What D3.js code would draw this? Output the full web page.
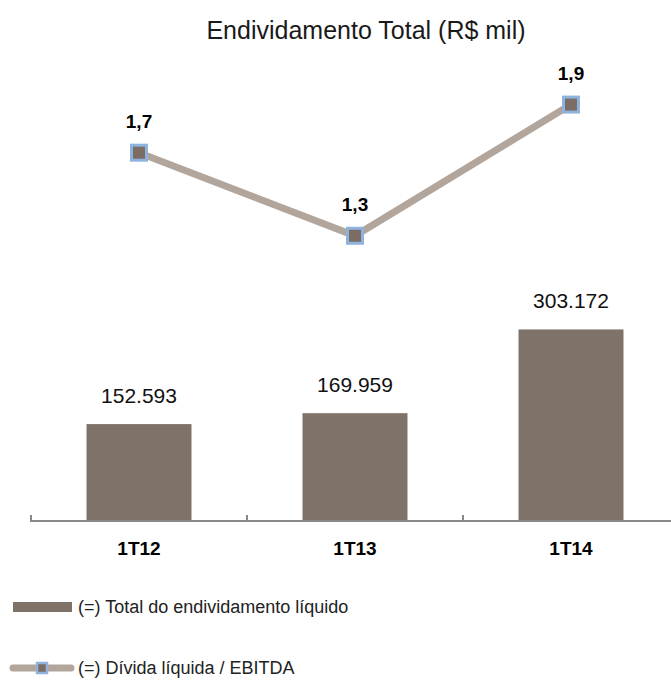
<!DOCTYPE html>
<meta charset="utf-8">
<script src="https://d3js.org/d3.v7.min.js"></script>
<style>
  body { margin: 0; background: #fff; }
  text { font-family: "Liberation Sans", Arial, sans-serif; }
</style>
<div id="my_dataviz"></div>
<script>

// data
var categories = ["1T12", "1T13", "1T14"];
var debtValues = [152593, 169959, 303172];      // Total do endividamento líquido
var ratioValues = [1.68, 1.3, 1.9];             // Dívida líquida / EBITDA
var debtLabels = ["152.593", "169.959", "303.172"];
var ratioLabels = ["1,7", "1,3", "1,9"];

var width = 671, height = 680;

var svg = d3.select("#my_dataviz")
  .append("svg")
    .attr("width", width)
    .attr("height", height);

// title
svg.append("text")
  .attr("x", 366)
  .attr("y", 39)
  .attr("text-anchor", "middle")
  .style("font-size", "25px")
  .style("fill", "#1a1a1a")
  .text("Endividamento Total (R$ mil)");

// scales
var x = d3.scaleBand()
  .domain(categories)
  .range([31, 679])
  .paddingInner(0.514)
  .paddingOuter(0.257);

var y = d3.scaleLinear()
  .domain([0, 350000])
  .range([520, 300]);

var y2 = d3.scaleLinear()
  .domain([0, 2.2])
  .range([520, 39]);

// bars
svg.append("g")
  .selectAll("rect")
  .data(debtValues)
  .enter()
  .append("rect")
    .attr("x", function(d, i) { return x(categories[i]); })
    .attr("y", function(d) { return y(d); })
    .attr("width", x.bandwidth())
    .attr("height", function(d) { return y(0) - y(d); })
    .style("fill", "#7f7369");

// bar labels
svg.append("g")
  .selectAll("text")
  .data(debtValues)
  .enter()
  .append("text")
    .attr("x", function(d, i) { return x(categories[i]) + x.bandwidth() / 2; })
    .attr("y", function(d) { return y(d) - 21; })
    .attr("text-anchor", "middle")
    .style("font-size", "21px")
    .style("fill", "#111")
    .text(function(d, i) { return debtLabels[i]; });

// x axis (line + upward ticks at band edges)
var axis = svg.append("g");
axis.append("line")
  .attr("x1", 31).attr("x2", width)
  .attr("y1", 521).attr("y2", 521)
  .style("stroke", "#8a8a8a")
  .style("stroke-width", 2);
axis.selectAll(".tick")
  .data(categories)
  .enter()
  .append("line")
    .attr("x1", function(d, i) { return x.range()[0] + i * x.step(); })
    .attr("x2", function(d, i) { return x.range()[0] + i * x.step(); })
    .attr("y1", 522).attr("y2", 515)
    .style("stroke", "#8a8a8a")
    .style("stroke-width", 2);
axis.selectAll(".cat")
  .data(categories)
  .enter()
  .append("text")
    .attr("x", function(d) { return x(d) + x.bandwidth() / 2; })
    .attr("y", 555)
    .attr("text-anchor", "middle")
    .style("font-size", "19px")
    .style("font-weight", "bold")
    .style("fill", "#000")
    .text(function(d) { return d; });

// line
var line = d3.line()
  .x(function(d, i) { return x(categories[i]) + x.bandwidth() / 2; })
  .y(function(d) { return y2(d); });

svg.append("path")
  .datum(ratioValues)
  .attr("d", line)
  .style("fill", "none")
  .style("stroke", "#b2a69c")
  .style("stroke-width", 7);

svg.append("g")
  .selectAll("rect")
  .data(ratioValues)
  .enter()
  .append("rect")
    .attr("x", function(d, i) { return x(categories[i]) + x.bandwidth() / 2 - 7.5; })
    .attr("y", function(d) { return y2(d) - 7.5; })
    .attr("width", 15)
    .attr("height", 15)
    .style("fill", "#7b6d64")
    .style("stroke", "#8fb3dc")
    .style("stroke-width", 3);

svg.append("g")
  .selectAll("text")
  .data(ratioValues)
  .enter()
  .append("text")
    .attr("x", function(d, i) { return x(categories[i]) + x.bandwidth() / 2; })
    .attr("y", function(d) { return y2(d) - 25; })
    .attr("text-anchor", "middle")
    .style("font-size", "19px")
    .style("font-weight", "bold")
    .style("fill", "#000")
    .text(function(d, i) { return ratioLabels[i]; });

// legend
var legend = svg.append("g");
legend.append("rect")
  .attr("x", 13).attr("y", 602)
  .attr("width", 59).attr("height", 10)
  .style("fill", "#7f7369");
legend.append("text")
  .attr("x", 78).attr("y", 613)
  .style("font-size", "18px")
  .style("fill", "#222")
  .text("(=) Total do endividamento líquido");

legend.append("line")
  .attr("x1", 13).attr("x2", 71)
  .attr("y1", 668).attr("y2", 668)
  .style("stroke", "#b2a69c")
  .style("stroke-width", 7)
  .style("stroke-linecap", "round");
legend.append("rect")
  .attr("x", 37).attr("y", 663)
  .attr("width", 10).attr("height", 10)
  .style("fill", "#7b6d64")
  .style("stroke", "#8fb3dc")
  .style("stroke-width", 2.5);
legend.append("text")
  .attr("x", 78).attr("y", 674)
  .style("font-size", "18px")
  .style("fill", "#222")
  .text("(=) Dívida líquida / EBITDA");

</script>
